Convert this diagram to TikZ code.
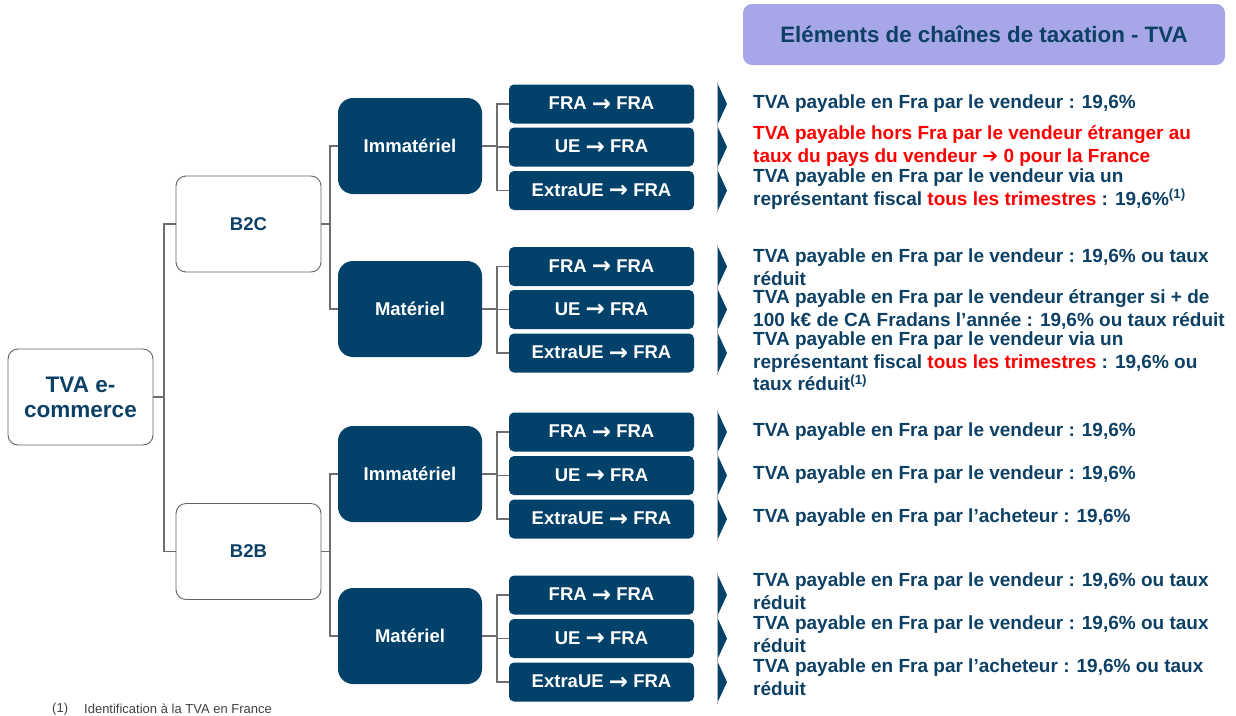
\documentclass[tikz,border=0pt]{standalone}
\usepackage{fontspec}
\setmainfont{Liberation Sans}
\newfontfamily\dejavu{DejaVu Sans}
\usetikzlibrary{positioning}
\definecolor{navy}{HTML}{02416A}
\definecolor{navytxt}{HTML}{0D4065}
\definecolor{lav}{HTML}{A6A6E8}
\definecolor{conn}{HTML}{6E6E6E}
\definecolor{redt}{HTML}{FF0000}
\newcommand{\arr}{\raisebox{-1.5pt}{\dejavu\bfseries\fontsize{23}{23}\selectfont →}}
\tikzset{
  whitebox/.style={draw=conn!90!black, line width=0.9pt, fill=white, rounded corners=10pt,
    minimum width=145pt, minimum height=96pt, text=navytxt, align=center, inner sep=0pt},
  midbox/.style={fill=navy, rounded corners=15pt, minimum width=144pt, minimum height=96pt,
    text=white, font=\fontsize{18.5}{22}\selectfont\bfseries, inner sep=0pt},
  leafbox/.style={fill=navy, rounded corners=5pt, minimum width=185pt, minimum height=39pt,
    text=white, font=\fontsize{18.5}{22}\selectfont\bfseries, inner sep=0pt},
  desc/.style={anchor=west, align=left, text=navytxt, inner sep=0pt,
    font=\fontsize{19}{22.5}\selectfont\bfseries},
  conline/.style={draw=conn, line width=1.1pt},
  foot/.style={anchor=west, inner sep=0pt, text=black!75, font=\fontsize{13}{15}\selectfont},
}
\newcommand{\chevron}[1]{%
  \fill[navy] (717,#1-21.6) -- (727,#1) -- (717,#1+21.6) -- cycle;}
\begin{document}
\begin{tikzpicture}[x=1pt,y=-1pt]
\useasboundingbox (0,0) rectangle (1236,715);
% header
\node[fill=lav, rounded corners=9pt, minimum width=482pt, minimum height=61pt, inner sep=0pt,
  text=navytxt, font=\fontsize{22.3}{26}\selectfont\bfseries] (hdr) at (984,34.5)
  {Eléments de chaînes de taxation - TVA};
% root and level 1
\node[whitebox, font=\fontsize{22.5}{25}\selectfont\bfseries] (root) at (80.5,397) {TVA e-\\commerce};
\node[whitebox, font=\fontsize{18.5}{22}\selectfont\bfseries] (b2c) at (248.5,224) {B2C};
\node[whitebox, font=\fontsize{18.5}{22}\selectfont\bfseries] (b2b) at (248.5,551.5) {B2B};
% level 2
\node[midbox] (ci) at (410,146) {Immatériel};
\node[midbox] (cm) at (410,309) {Matériel};
\node[midbox] (bi) at (410,474) {Immatériel};
\node[midbox] (bm) at (410,636) {Matériel};
% leaves
\node[leafbox] (ci1) at (601.5,104) {FRA \arr{} FRA};
\node[leafbox] (ci2) at (601.5,147) {UE \arr{} FRA};
\node[leafbox] (ci3) at (601.5,190.5) {ExtraUE \arr{} FRA};
\node[leafbox] (cm1) at (601.5,266.5) {FRA \arr{} FRA};
\node[leafbox] (cm2) at (601.5,309.5) {UE \arr{} FRA};
\node[leafbox] (cm3) at (601.5,353) {ExtraUE \arr{} FRA};
\node[leafbox] (bi1) at (601.5,432) {FRA \arr{} FRA};
\node[leafbox] (bi2) at (601.5,475.5) {UE \arr{} FRA};
\node[leafbox] (bi3) at (601.5,519) {ExtraUE \arr{} FRA};
\node[leafbox] (bm1) at (601.5,595) {FRA \arr{} FRA};
\node[leafbox] (bm2) at (601.5,638.5) {UE \arr{} FRA};
\node[leafbox] (bm3) at (601.5,682) {ExtraUE \arr{} FRA};
% connectors
\coordinate (j0) at (164,397);
\draw[conline] (root.east) -- (j0);
\draw[conline] (j0) |- (b2c.west);
\draw[conline] (j0) |- (b2b.west);
\coordinate (j1) at (330,224);
\draw[conline] (b2c.east) -- (j1);
\draw[conline] (j1) |- (ci.west);
\draw[conline] (j1) |- (cm.west);
\coordinate (j2) at (330,551.5);
\draw[conline] (b2b.east) -- (j2);
\draw[conline] (j2) |- (bi.west);
\draw[conline] (j2) |- (bm.west);
\foreach \m/\a/\b/\c in {ci/ci1/ci2/ci3, cm/cm1/cm2/cm3, bi/bi1/bi2/bi3, bm/bm1/bm2/bm3}{
  \coordinate (\m j) at (497,0 |- \m.east);
  \draw[conline] (\m.east) -- (\m j);
  \draw[conline] (\m j) |- (\a.west);
  \draw[conline] (\m j) |- (\b.west);
  \draw[conline] (\m j) |- (\c.west);
}
% chevrons
\foreach \c in {104,147,190.5,266.5,309.5,353,432,475.5,519,595,638.5,682}{\chevron{\c}}
\foreach \t/\b in {82/212, 245/375, 410/541, 573/704}{
  \draw[gray!60, line width=0.8pt] (717,\t) -- (717,\b);}
% descriptions
\node[desc] (d1) at (753,104) {TVA payable en Fra par le vendeur : 19,6\%};
\node[desc, text=redt] (d2) at (753,146) {TVA payable hors Fra par le vendeur étranger au\\taux du pays du vendeur {\dejavu\bfseries ➔} 0 pour la France};
\node[desc] (d3) at (753,189) {TVA payable en Fra par le vendeur via un\\représentant fiscal {\color{redt}tous les trimestres} : 19,6\%\textsuperscript{(1)}};
\node[desc] (d4) at (753,267) {TVA payable en Fra par le vendeur : 19,6\% ou taux\\réduit};
\node[desc] (d5) at (753,309.5) {TVA payable en Fra par le vendeur étranger si + de\\100 k€ de CA Fradans l’année : 19,6\% ou taux réduit};
\node[desc] (d6) at (753,361.5) {TVA payable en Fra par le vendeur via un\\représentant fiscal {\color{redt}tous les trimestres} : 19,6\% ou\\taux réduit\textsuperscript{(1)}};
\node[desc] (d7) at (753,432) {TVA payable en Fra par le vendeur : 19,6\%};
\node[desc] (d8) at (753,475) {TVA payable en Fra par le vendeur : 19,6\%};
\node[desc] (d9) at (753,518) {TVA payable en Fra par l’acheteur : 19,6\%};
\node[desc] (d10) at (753,591) {TVA payable en Fra par le vendeur : 19,6\% ou taux\\réduit};
\node[desc] (d11) at (753,634) {TVA payable en Fra par le vendeur : 19,6\% ou taux\\réduit};
\node[desc] (d12) at (753,677) {TVA payable en Fra par l’acheteur : 19,6\% ou taux\\réduit};
% footnote
\node[foot] (fn1) at (52,709) {(1)};
\node[foot] (fn2) at (84,709) {Identification à la TVA en France};
\end{tikzpicture}
\end{document}
